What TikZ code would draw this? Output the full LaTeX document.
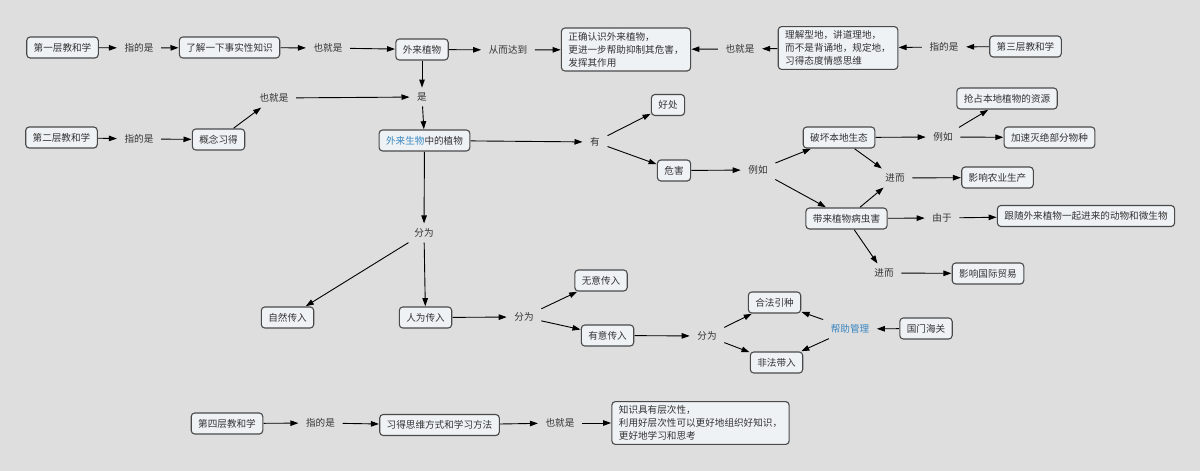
\documentclass[tikz,border=0pt]{standalone}
\usepackage{fontspec}
\newfontfamily\cjk{Noto Sans CJK SC}
\usetikzlibrary{arrows.meta}
\definecolor{bg}{HTML}{DEDEDE}
\definecolor{boxfill}{HTML}{EEF2F4}
\definecolor{boxline}{HTML}{4A4A4A}
\definecolor{txt}{HTML}{333333}
\definecolor{blu}{HTML}{3A86C0}
\tikzset{
  box/.style={draw=boxline, line width=1.1pt, fill=boxfill, rounded corners=3.5pt,
    inner xsep=7pt, inner ysep=0pt, minimum height=21pt, outer sep=0.8pt,
    text=txt, font=\cjk\fontsize{9.6}{13}\selectfont},
  mbox/.style={box, align=left, inner ysep=4pt},
  lbl/.style={inner xsep=7.5pt, inner ysep=5pt, text=txt, font=\cjk\fontsize{9.6}{13}\selectfont},
  arr/.style={-{Triangle[length=8pt,width=5.5pt]}, line width=0.9pt, draw=black}
}
\begin{document}
\begin{tikzpicture}[x=1pt,y=-1pt]
\fill[bg] (0,0) rectangle (1200,471);
\useasboundingbox (0,0) rectangle (1200,471);
% boxes
\node[box] (b1) at (62.5,47.5) {第一层教和学};
\node[box] (b1a) at (229.5,47.5) {了解一下事实性知识};
\node[box] (wl) at (422,49.5) {外来植物};
\node[mbox] (zq) at (626,49.5) {正确认识外来植物，\\更进一步帮助抑制其危害，\\发挥其作用};
\node[mbox] (lj) at (838,48) {理解型地，讲道理地，\\而不是背诵地，规定地，\\习得态度情感思维};
\node[box] (b3) at (1025.5,46.5) {第三层教和学};
\node[box] (b2) at (61.5,137.5) {第二层教和学};
\node[box] (gn) at (218.5,139.5) {概念习得};
\node[box] (wsw) at (424.5,140.5) {\textcolor{blu}{外来生物}中的植物};
\node[box] (hc) at (668,105) {好处};
\node[box] (wh) at (674,170.5) {危害};
\node[box] (ph) at (839,137.5) {破坏本地生态};
\node[box] (qz) at (1007,98.5) {抢占本地植物的资源};
\node[box] (js) at (1049.5,137.5) {加速灭绝部分物种};
\node[box] (ny) at (997.5,177.5) {影响农业生产};
\node[box] (dl) at (846.5,218.5) {带来植物病虫害};
\node[box] (gs) at (1086,216) {跟随外来植物一起进来的动物和微生物};
\node[box] (gm) at (988,273.5) {影响国际贸易};
\node[box] (zr) at (287.5,317.5) {自然传入};
\node[box] (rw) at (425.5,317.5) {人为传入};
\node[box] (wy) at (601,280.5) {无意传入};
\node[box] (yy) at (607.5,335.5) {有意传入};
\node[box] (hf) at (774.5,302.5) {合法引种};
\node[box] (ff) at (776.5,362.5) {非法带入};
\node[box] (gh) at (926,328.5) {国门海关};
\node[box] (b4) at (227,423.5) {第四层教和学};
\node[box] (xd) at (439.5,425) {习得思维方式和学习方法};
\node[mbox] (zs) at (700.5,423) {知识具有层次性，\\利用好层次性可以更好地组织好知识，\\更好地学习和思考};
% labels
\node[lbl] (l1) at (139,48) {指的是};
\node[lbl] (l2) at (328,48) {也就是};
\node[lbl] (l3) at (508,50) {从而达到};
\node[lbl] (l4) at (740,49) {也就是};
\node[lbl] (l5) at (944,47) {指的是};
\node[lbl] (l6) at (274,98) {也就是};
\node[lbl] (l7) at (422,97) {是};
\node[lbl] (l8) at (139,139) {指的是};
\node[lbl] (l9) at (595,142) {有};
\node[lbl] (l10) at (758,170) {例如};
\node[lbl] (l11) at (943,137) {例如};
\node[lbl] (l12) at (895,178) {进而};
\node[lbl] (l13) at (942,218) {由于};
\node[lbl] (l14) at (884,273) {进而};
\node[lbl] (l15) at (424,233) {分为};
\node[lbl] (l16) at (524,317) {分为};
\node[lbl] (l17) at (707,336) {分为};
\node[lbl,text=blu] (l18) at (850,329) {帮助管理};
\node[lbl] (l19) at (320.5,423) {指的是};
\node[lbl] (l20) at (560,423) {也就是};
% connectors
\draw[arr] (b1) -- (l1);
\draw[arr] (l1) -- (b1a);
\draw[arr] (b1a) -- (l2);
\draw[arr] (l2) -- (wl);
\draw[arr] (wl) -- (l3);
\draw[arr] (l3) -- (zq);
\draw[arr] (l4) -- (zq);
\draw[arr] (lj) -- (l4);
\draw[arr] (l5) -- (lj);
\draw[arr] (b3) -- (l5);
\draw[arr] (wl) -- (l7);
\draw[arr] (l6) -- (l7);
\draw[arr] (l7) -- (wsw);
\draw[arr] (b2) -- (l8);
\draw[arr] (l8) -- (gn);
\draw[arr] (gn) -- (l6);
\draw[arr] (wsw) -- (l9);
\draw[arr] (l9) -- (hc);
\draw[arr] (l9) -- (wh);
\draw[arr] (wh) -- (l10);
\draw[arr] (l10) -- (ph);
\draw[arr] (l10) -- (dl);
\draw[arr] (ph) -- (l11);
\draw[arr] (l11) -- (qz);
\draw[arr] (l11) -- (js);
\draw[arr] (ph) -- (l12);
\draw[arr] (dl) -- (l12);
\draw[arr] (l12) -- (ny);
\draw[arr] (dl) -- (l13);
\draw[arr] (l13) -- (gs);
\draw[arr] (dl) -- (l14);
\draw[arr] (l14) -- (gm);
\draw[arr] (wsw) -- (l15);
\draw[arr] (l15) -- (zr);
\draw[arr] (l15) -- (rw);
\draw[arr] (rw) -- (l16);
\draw[arr] (l16) -- (wy);
\draw[arr] (l16) -- (yy);
\draw[arr] (yy) -- (l17);
\draw[arr] (l17) -- (hf);
\draw[arr] (l17) -- (ff);
\draw[arr] (l18) -- (hf);
\draw[arr] (l18) -- (ff);
\draw[arr] (gh) -- (l18);
\draw[arr] (b4) -- (l19);
\draw[arr] (l19) -- (xd);
\draw[arr] (xd) -- (l20);
\draw[arr] (l20) -- (zs);
\end{tikzpicture}
\end{document}
